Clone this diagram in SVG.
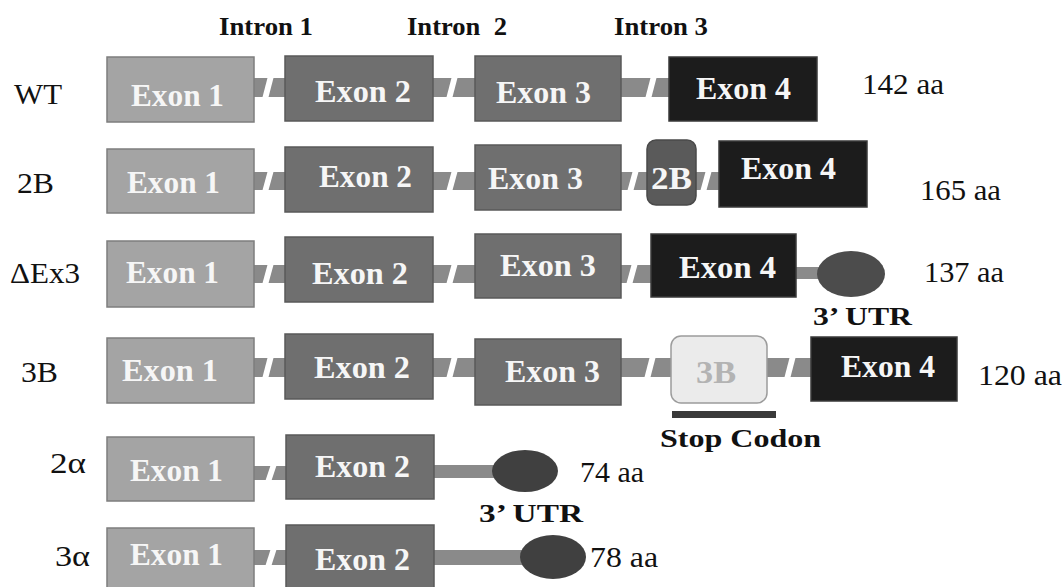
<svg xmlns="http://www.w3.org/2000/svg" width="1062" height="587" viewBox="0 0 1062 587">
<style>
.e1{fill:#a4a4a4;stroke:#7e7e7e;stroke-width:1.5}
.e2{fill:#6f6f6f;stroke:#595959;stroke-width:1.5}
.e4{fill:#1c1c1c;stroke:#3a3a3a;stroke-width:1.5}
.b2{fill:#5a5a5a;stroke:#4a4a4a;stroke-width:1.5}
.b3{fill:#ebebeb;stroke:#9c9c9c;stroke-width:1.5}
.bar{fill:#8a8a8a}
.brk{fill:#ffffff}
.utr{fill:#4c4c4c}
text{font-family:"Liberation Serif","Times New Roman",Tinos,"DejaVu Serif",serif}
.et{font-weight:bold;font-size:32px;fill:#f6f6f6}
.lb{font-size:30px;fill:#111}
.aa{font-size:29px;fill:#111}
.hd{font-weight:bold;font-size:26px;fill:#111}
</style>
<rect width="1062" height="587" fill="#ffffff"/>

<g id="headers">
<text class="hd" x="219" y="35" textLength="94" lengthAdjust="spacingAndGlyphs">Intron 1</text>
<text class="hd" x="407" y="35" textLength="100" lengthAdjust="spacingAndGlyphs" xml:space="preserve">Intron  2</text>
<text class="hd" x="614" y="35" textLength="94" lengthAdjust="spacingAndGlyphs">Intron 3</text>
</g>

<g id="connectors">
<!-- row WT -->
<rect class="bar" x="254" y="78" width="31" height="19"/>
<polygon class="brk" points="268,76 274,76 268,99 262,99"/>
<rect class="bar" x="433" y="78" width="42" height="19"/>
<polygon class="brk" points="452,76 458,76 452,99 446,99"/>
<rect class="bar" x="621" y="78" width="48" height="19"/>
<polygon class="brk" points="651,76 657,76 651,99 645,99"/>
<!-- row 2B -->
<rect class="bar" x="254" y="172" width="31" height="18"/>
<polygon class="brk" points="268,170 274,170 268,192 262,192"/>
<rect class="bar" x="433" y="172" width="42" height="18"/>
<polygon class="brk" points="452,170 458,170 452,192 446,192"/>
<rect class="bar" x="621" y="172" width="26" height="18"/>
<polygon class="brk" points="633,170 639,170 633,192 627,192"/>
<rect class="bar" x="696" y="172" width="23" height="18"/>
<polygon class="brk" points="706,170 712,170 706,192 700,192"/>
<!-- row dEx3 -->
<rect class="bar" x="254" y="265" width="31" height="18"/>
<polygon class="brk" points="268,263 274,263 268,285 262,285"/>
<rect class="bar" x="433" y="265" width="42" height="18"/>
<polygon class="brk" points="452,263 458,263 452,285 446,285"/>
<rect class="bar" x="621" y="265" width="30" height="18"/>
<polygon class="brk" points="632,263 638,263 632,285 626,285"/>
<rect class="bar" x="796" y="267" width="36" height="12"/>
<!-- row 3B -->
<rect class="bar" x="254" y="358" width="31" height="19"/>
<polygon class="brk" points="268,356 274,356 268,379 262,379"/>
<rect class="bar" x="433" y="358" width="42" height="19"/>
<polygon class="brk" points="452,356 458,356 452,379 446,379"/>
<rect class="bar" x="621" y="358" width="50" height="19"/>
<polygon class="brk" points="650,356 656,356 650,379 644,379"/>
<rect class="bar" x="767" y="358" width="44" height="19"/>
<polygon class="brk" points="790,356 796,356 790,379 784,379"/>
<!-- row 2a -->
<rect class="bar" x="254" y="466" width="32" height="14"/>
<polygon class="brk" points="271,464 277,464 271,482 265,482"/>
<rect class="bar" x="434" y="465" width="70" height="13"/>
<!-- row 3a -->
<rect class="bar" x="254" y="550" width="32" height="15"/>
<polygon class="brk" points="271,548 277,548 271,567 265,567"/>
<rect class="bar" x="434" y="550" width="100" height="15"/>
</g>

<g id="row-labels">
<text class="lb" x="14" y="104" textLength="48" lengthAdjust="spacingAndGlyphs">WT</text>
<text class="lb" x="17" y="193" textLength="37" lengthAdjust="spacingAndGlyphs">2B</text>
<text class="lb" x="10" y="283" textLength="70" lengthAdjust="spacingAndGlyphs">ΔEx3</text>
<text class="lb" x="21" y="382" textLength="37" lengthAdjust="spacingAndGlyphs">3B</text>
<text class="lb" x="50" y="473" textLength="36" lengthAdjust="spacingAndGlyphs">2α</text>
<text class="lb" x="55" y="566" textLength="35" lengthAdjust="spacingAndGlyphs">3α</text>
</g>

<!-- Row WT -->
<g id="wt-exon1"><rect class="e1" x="107" y="57" width="147" height="65"/><text class="et" x="131" y="106" textLength="93" lengthAdjust="spacingAndGlyphs">Exon 1</text></g>
<g id="wt-exon2"><rect class="e2" x="285" y="56" width="148" height="65"/><text class="et" x="315" y="102" textLength="96" lengthAdjust="spacingAndGlyphs">Exon 2</text></g>
<g id="wt-exon3"><rect class="e2" x="475" y="56" width="146" height="65"/><text class="et" x="496" y="103" textLength="95" lengthAdjust="spacingAndGlyphs">Exon 3</text></g>
<g id="wt-exon4"><rect class="e4" x="669" y="57" width="148" height="64"/><text class="et" x="696" y="99" textLength="95" lengthAdjust="spacingAndGlyphs">Exon 4</text></g>
<text class="aa" x="862" y="94" textLength="82" lengthAdjust="spacingAndGlyphs">142 aa</text>

<!-- Row 2B -->
<g id="r2b-exon1"><rect class="e1" x="107" y="149" width="147" height="64"/><text class="et" x="127" y="193" textLength="93" lengthAdjust="spacingAndGlyphs">Exon 1</text></g>
<g id="r2b-exon2"><rect class="e2" x="285" y="147" width="148" height="65"/><text class="et" x="319" y="187" textLength="93" lengthAdjust="spacingAndGlyphs">Exon 2</text></g>
<g id="r2b-exon3"><rect class="e2" x="475" y="145" width="146" height="65"/><text class="et" x="488" y="189" textLength="95" lengthAdjust="spacingAndGlyphs">Exon 3</text></g>
<g id="r2b-2b"><rect class="b2" x="647" y="140" width="49" height="65" rx="9"/><text class="et" x="651" y="189" textLength="41" lengthAdjust="spacingAndGlyphs">2B</text></g>
<g id="r2b-exon4"><rect class="e4" x="719" y="141" width="148" height="66"/><text class="et" x="741" y="179" textLength="95" lengthAdjust="spacingAndGlyphs">Exon 4</text></g>
<text class="aa" x="920" y="200" textLength="81" lengthAdjust="spacingAndGlyphs">165 aa</text>

<!-- Row dEx3 -->
<g id="dex3-exon1"><rect class="e1" x="107" y="241" width="147" height="66"/><text class="et" x="126" y="283" textLength="93" lengthAdjust="spacingAndGlyphs">Exon 1</text></g>
<g id="dex3-exon2"><rect class="e2" x="285" y="237" width="148" height="65"/><text class="et" x="312" y="284" textLength="96" lengthAdjust="spacingAndGlyphs">Exon 2</text></g>
<g id="dex3-exon3"><rect class="e2" x="475" y="234" width="146" height="64"/><text class="et" x="500" y="276" textLength="96" lengthAdjust="spacingAndGlyphs">Exon 3</text></g>
<g id="dex3-exon4"><rect class="e4" x="651" y="234" width="145" height="63"/><text class="et" x="679" y="278" textLength="97" lengthAdjust="spacingAndGlyphs">Exon 4</text></g>
<g id="dex3-utr"><ellipse class="utr" cx="851" cy="274" rx="34" ry="23"/><text class="hd" x="813" y="325" textLength="99" lengthAdjust="spacingAndGlyphs">3’ UTR</text></g>
<text class="aa" x="924" y="282" textLength="80" lengthAdjust="spacingAndGlyphs">137 aa</text>

<!-- Row 3B -->
<g id="r3b-exon1"><rect class="e1" x="107" y="338" width="147" height="65"/><text class="et" x="122" y="381" textLength="96" lengthAdjust="spacingAndGlyphs">Exon 1</text></g>
<g id="r3b-exon2"><rect class="e2" x="285" y="334" width="148" height="65"/><text class="et" x="314" y="378" textLength="96" lengthAdjust="spacingAndGlyphs">Exon 2</text></g>
<g id="r3b-exon3"><rect class="e2" x="475" y="339" width="146" height="66"/><text class="et" x="505" y="382" textLength="95" lengthAdjust="spacingAndGlyphs">Exon 3</text></g>
<g id="r3b-3b"><rect class="b3" x="671" y="336" width="96" height="67" rx="10"/><text class="et" x="696" y="383" textLength="40" lengthAdjust="spacingAndGlyphs" style="fill:#b3b3b3">3B</text></g>
<g id="r3b-exon4"><rect class="e4" x="811" y="337" width="146" height="64"/><text class="et" x="841" y="377" textLength="94" lengthAdjust="spacingAndGlyphs">Exon 4</text></g>
<g id="stop-codon"><rect x="672" y="411" width="104" height="7" fill="#3a3a3a"/><text class="hd" x="660" y="447" textLength="161" lengthAdjust="spacingAndGlyphs">Stop Codon</text></g>
<text class="aa" x="978" y="385" textLength="84" lengthAdjust="spacingAndGlyphs">120 aa</text>

<!-- Row 2a -->
<g id="r2a-exon1"><rect class="e1" x="107" y="437" width="147" height="64"/><text class="et" x="130" y="481" textLength="93" lengthAdjust="spacingAndGlyphs">Exon 1</text></g>
<g id="r2a-exon2"><rect class="e2" x="286" y="435" width="148" height="64"/><text class="et" x="315" y="477" textLength="95" lengthAdjust="spacingAndGlyphs">Exon 2</text></g>
<g id="r2a-utr"><ellipse class="utr" cx="525" cy="471" rx="33" ry="21" style="fill:#404040"/><text class="hd" x="479" y="522" textLength="104" lengthAdjust="spacingAndGlyphs">3’ UTR</text></g>
<text class="aa" x="580" y="482" textLength="64" lengthAdjust="spacingAndGlyphs">74 aa</text>

<!-- Row 3a -->
<g id="r3a-exon1"><rect class="e1" x="107" y="528" width="147" height="64"/><text class="et" x="130" y="565" textLength="93" lengthAdjust="spacingAndGlyphs">Exon 1</text></g>
<g id="r3a-exon2"><rect class="e2" x="286" y="525" width="148" height="67"/><text class="et" x="315" y="570" textLength="95" lengthAdjust="spacingAndGlyphs">Exon 2</text></g>
<g id="r3a-utr"><ellipse class="utr" cx="553" cy="557" rx="33" ry="22" style="fill:#404040"/></g>
<text class="aa" x="590" y="567" textLength="68" lengthAdjust="spacingAndGlyphs">78 aa</text>
</svg>
